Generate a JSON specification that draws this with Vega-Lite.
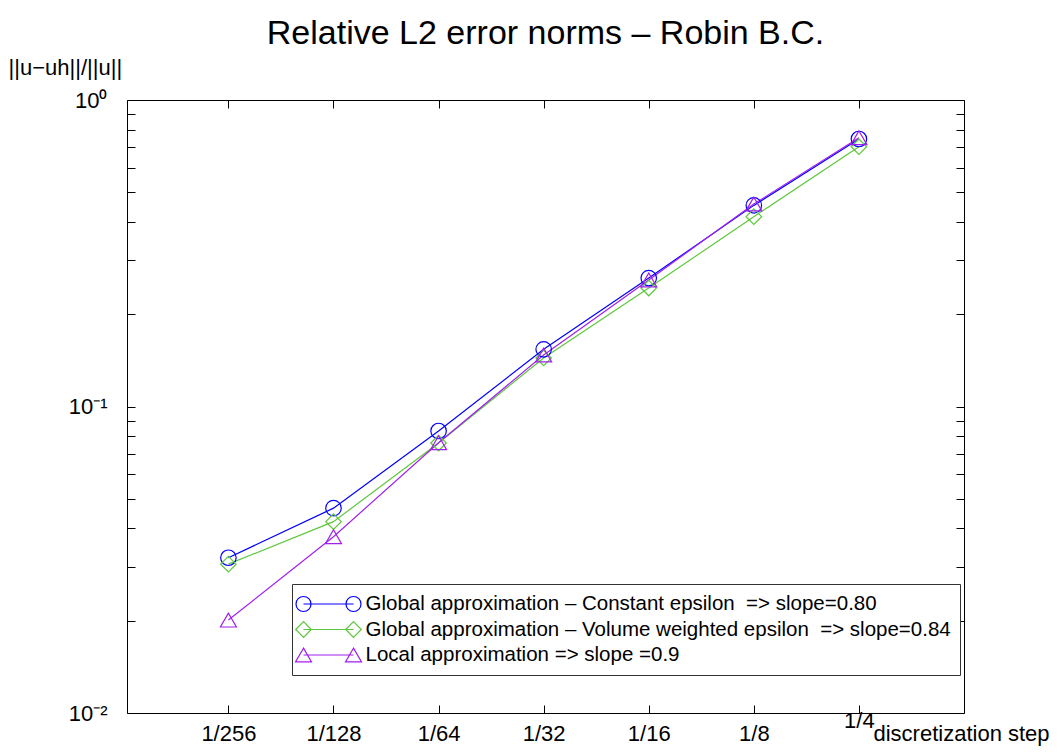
{
  "$schema": "https://vega.github.io/schema/vega-lite/v6.json",
  "width": 837,
  "height": 613,
  "autosize": {"type": "none"},
  "padding": {"left": 127, "top": 100, "right": 97, "bottom": 40},
  "background": "white",
  "config": {
    "view": {"stroke": "black", "strokeWidth": 1},
    "font": "Liberation Sans",
    "axis": {
      "grid": false, "domain": false, "tickColor": "black", "tickWidth": 1,
      "labelColor": "black", "titleColor": "black",
      "labelFont": "Liberation Sans", "titleFont": "Liberation Sans",
      "labelFontSize": 22, "titleFontSize": 22, "titleFontWeight": "normal",
      "labelFlush": false, "labelOverlap": false, "tickSize": -8
    }
  },
  "title": {
    "text": "Relative L2 error norms – Robin B.C.",
    "fontSize": 34, "fontWeight": "normal", "font": "Liberation Sans",
    "color": "black", "anchor": "middle", "frame": "group",
    "baseline": "alphabetic", "offset": -22
  },
  "data": {
    "values": [
      {"lx": -8, "err": 0.0321, "series": "Global approximation – Constant epsilon  => slope=0.80"},
      {"lx": -7, "err": 0.0466, "series": "Global approximation – Constant epsilon  => slope=0.80"},
      {"lx": -6, "err": 0.0832, "series": "Global approximation – Constant epsilon  => slope=0.80"},
      {"lx": -5, "err": 0.1537, "series": "Global approximation – Constant epsilon  => slope=0.80"},
      {"lx": -4, "err": 0.2625, "series": "Global approximation – Constant epsilon  => slope=0.80"},
      {"lx": -3, "err": 0.4531, "series": "Global approximation – Constant epsilon  => slope=0.80"},
      {"lx": -2, "err": 0.746, "series": "Global approximation – Constant epsilon  => slope=0.80"},
      {"lx": -8, "err": 0.0306, "series": "Global approximation – Volume weighted epsilon  => slope=0.84"},
      {"lx": -7, "err": 0.0421, "series": "Global approximation – Volume weighted epsilon  => slope=0.84"},
      {"lx": -6, "err": 0.0760, "series": "Global approximation – Volume weighted epsilon  => slope=0.84"},
      {"lx": -5, "err": 0.1440, "series": "Global approximation – Volume weighted epsilon  => slope=0.84"},
      {"lx": -4, "err": 0.2435, "series": "Global approximation – Volume weighted epsilon  => slope=0.84"},
      {"lx": -3, "err": 0.4163, "series": "Global approximation – Volume weighted epsilon  => slope=0.84"},
      {"lx": -2, "err": 0.704, "series": "Global approximation – Volume weighted epsilon  => slope=0.84"},
      {"lx": -8, "err": 0.0201, "series": "Local approximation => slope =0.9"},
      {"lx": -7, "err": 0.0376, "series": "Local approximation => slope =0.9"},
      {"lx": -6, "err": 0.0762, "series": "Local approximation => slope =0.9"},
      {"lx": -5, "err": 0.1472, "series": "Local approximation => slope =0.9"},
      {"lx": -4, "err": 0.2587, "series": "Local approximation => slope =0.9"},
      {"lx": -3, "err": 0.4577, "series": "Local approximation => slope =0.9"},
      {"lx": -2, "err": 0.753, "series": "Local approximation => slope =0.9"}
    ]
  },
  "layer": [
    {
      "mark": {"type": "line", "strokeWidth": 1.2},
      "encoding": {
        "x": {
          "field": "lx", "type": "quantitative",
          "scale": {"domain": [-8.965, -1], "nice": false, "zero": false},
          "axis": {
            "orient": "bottom", "values": [-8, -7, -6, -5, -4, -3, -2],
            "labelExpr": "'1/' + pow(2, -datum.value)",
            "labelBaseline": "alphabetic",
            "labelPadding": {"condition": {"test": "datum.value == -2", "value": 22}, "value": 35},
            "title": "discretization step", "titleX": 746, "titleY": 27,
            "titleAlign": "left", "titleBaseline": "alphabetic", "titleAngle": 0
          }
        },
        "y": {
          "field": "err", "type": "quantitative",
          "scale": {"type": "log", "domain": [0.01, 1], "nice": false},
          "axis": {
            "orient": "left",
            "values": [0.01, 0.02, 0.03, 0.04, 0.05, 0.06, 0.07, 0.08, 0.09, 0.1, 0.2, 0.3, 0.4, 0.5, 0.6, 0.7, 0.8, 0.9, 1],
            "labelExpr": "abs(datum.value - 1) < 1e-6 ? '10⁰' : abs(datum.value - 0.1) < 1e-7 ? '10⁻¹' : abs(datum.value - 0.01) < 1e-8 ? '10⁻²' : ''",
            "labelPadding": 28, "labelBaseline": "middle",
            "encode": {"ticks": {"x2": {"value": {"expr": "abs(log(datum.value)/LN10 - round(log(datum.value)/LN10)) < 0.01 ? 8 : 5"}}}},
            "title": "||u−uh||/||u||", "titleAngle": 0, "titleX": -119, "titleY": -26,
            "titleAlign": "left", "titleBaseline": "alphabetic"
          }
        },
        "stroke": {
          "field": "series", "type": "nominal", "legend": null,
          "scale": {"range": ["#0000ff", "#5ec83c", "#a020f0"]}
        }
      }
    },
    {
      "transform": [{"filter": "datum.series == 'Global approximation – Constant epsilon  => slope=0.80'"}],
      "mark": {"type": "point", "shape": "circle", "filled": false, "size": 240, "strokeWidth": 1.2, "opacity": 1},
      "encoding": {
        "x": {
          "field": "lx", "type": "quantitative",
          "axis": {"orient": "top", "values": [-8, -7, -6, -5, -4, -3, -2], "labels": false, "title": null}
        },
        "y": {
          "field": "err", "type": "quantitative",
          "axis": {
            "orient": "right", "labels": false, "title": null,
            "values": [0.01, 0.02, 0.03, 0.04, 0.05, 0.06, 0.07, 0.08, 0.09, 0.1, 0.2, 0.3, 0.4, 0.5, 0.6, 0.7, 0.8, 0.9, 1],
            "encode": {"ticks": {"x2": {"value": {"expr": "abs(log(datum.value)/LN10 - round(log(datum.value)/LN10)) < 0.01 ? -8 : -5"}}}}
          }
        },
        "stroke": {"field": "series", "type": "nominal", "legend": null}
      }
    },
    {
      "transform": [{"filter": "datum.series == 'Global approximation – Volume weighted epsilon  => slope=0.84'"}],
      "mark": {"type": "point", "shape": "diamond", "filled": false, "size": 240, "strokeWidth": 1.2, "opacity": 1},
      "encoding": {
        "x": {"field": "lx", "type": "quantitative", "axis": null},
        "y": {"field": "err", "type": "quantitative", "axis": null},
        "stroke": {"field": "series", "type": "nominal", "legend": null}
      }
    },
    {
      "transform": [{"filter": "datum.series == 'Local approximation => slope =0.9'"}],
      "mark": {"type": "point", "shape": "triangle-up", "filled": false, "size": 256, "strokeWidth": 1.2, "opacity": 1},
      "encoding": {
        "x": {"field": "lx", "type": "quantitative", "axis": null},
        "y": {"field": "err", "type": "quantitative", "axis": null},
        "stroke": {"field": "series", "type": "nominal", "legend": null}
      }
    },
    {
      "mark": {"type": "point", "filled": false, "strokeWidth": 1.2, "opacity": 0},
      "encoding": {
        "x": {"field": "lx", "type": "quantitative", "axis": null},
        "y": {"field": "err", "type": "quantitative", "axis": null},
        "color": {
          "field": "series", "type": "nominal",
          "scale": {
            "domain": ["Global approximation – Constant epsilon  => slope=0.80", "Global approximation – Volume weighted epsilon  => slope=0.84", "Local approximation => slope =0.9"],
            "range": ["#0000ff", "#5ec83c", "#a020f0"]
          },
          "legend": {
            "title": null, "orient": "none", "legendX": 165, "legendY": 484,
            "padding": 9, "strokeColor": "#333333", "fillColor": "white",
            "labelExpr": "replace(datum.label, '  ', '\u00a0 ') + '\u00a0\u00a0'",
            "labelFontSize": 20.5, "labelFont": "Liberation Sans", "labelColor": "black", "labelLimit": 2000,
            "symbolSize": 400, "symbolStrokeWidth": 1.2, "symbolOpacity": 1, "symbolOffset": 16.5, "labelOffset": 26, "rowPadding": 3.5
          }
        },
        "shape": {
          "field": "series", "type": "nominal",
          "scale": {
            "domain": ["Global approximation – Constant epsilon  => slope=0.80", "Global approximation – Volume weighted epsilon  => slope=0.84", "Local approximation => slope =0.9"],
            "range": [
              "M-2.5,0L2.5,0M-3.25,0A0.75,0.75,0,1,0,-1.75,0A0.75,0.75,0,1,0,-3.25,0M1.75,0A0.75,0.75,0,1,0,3.25,0A0.75,0.75,0,1,0,1.75,0",
              "M-2.5,0L2.5,0M-3.28,0L-2.5,-0.78L-1.72,0L-2.5,0.78ZM1.72,0L2.5,-0.78L3.28,0L2.5,0.78Z",
              "M-2.5,0L2.5,0M-2.5,-0.69L-1.7,0.69L-3.3,0.69ZM2.5,-0.69L3.3,0.69L1.7,0.69Z"
            ]
          },
          "legend": {
            "title": null, "orient": "none", "legendX": 165, "legendY": 484,
            "padding": 9, "strokeColor": "#333333", "fillColor": "white",
            "labelExpr": "replace(datum.label, '  ', '\u00a0 ') + '\u00a0\u00a0'",
            "labelFontSize": 20.5, "labelFont": "Liberation Sans", "labelColor": "black", "labelLimit": 2000,
            "symbolSize": 400, "symbolStrokeWidth": 1.2, "symbolOpacity": 1, "symbolOffset": 16.5, "labelOffset": 26, "rowPadding": 3.5
          }
        }
      }
    }
  ],
  "resolve": {"axis": {"x": "independent", "y": "independent"}}
}
